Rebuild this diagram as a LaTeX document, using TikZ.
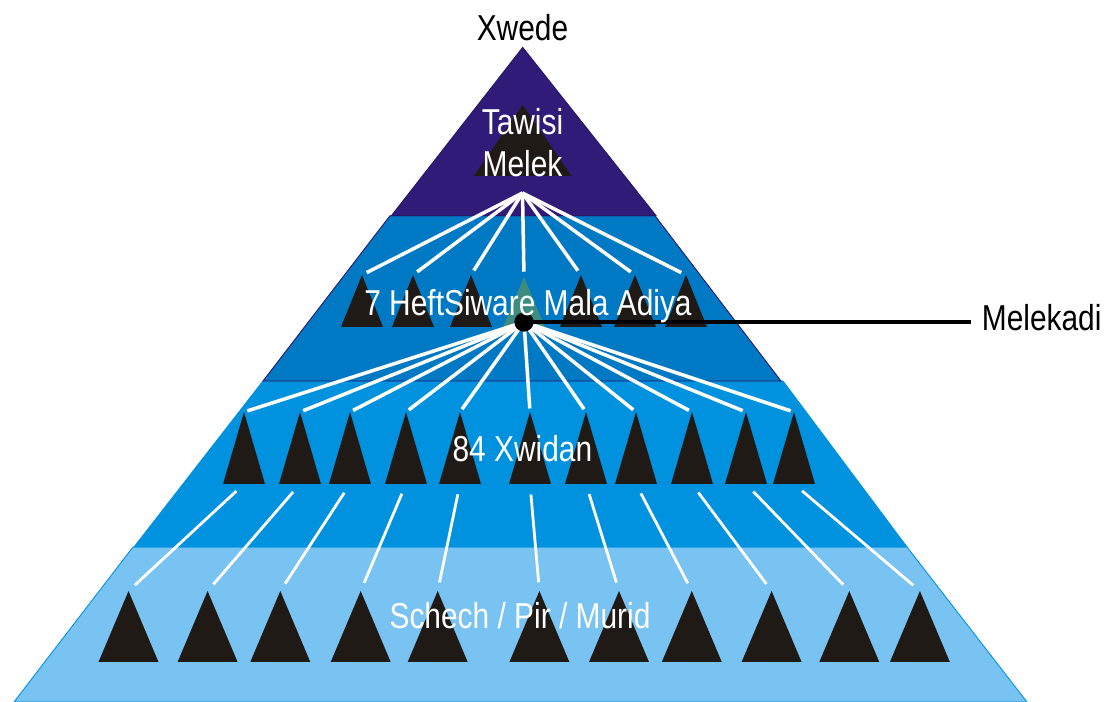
\documentclass[tikz,border=0pt]{standalone}
\usepackage{fontspec}
\newfontfamily\nar[FakeStretch=0.83]{Liberation Sans}
\definecolor{bandA}{RGB}{49,27,120}
\definecolor{bandB}{RGB}{0,121,197}
\definecolor{bandC}{RGB}{0,145,223}
\definecolor{bandD}{RGB}{120,195,242}
\definecolor{edgeA}{RGB}{40,22,105}
\definecolor{triblack}{RGB}{32,26,23}
\definecolor{trigreen}{RGB}{60,140,128}
% name, cx, apex y, base y, half width, colour
\newcommand\tri[6]{%
  \fill[#6] (#2,#3) -- ({#2+#5},#4) -- ({#2-#5},#4) -- cycle;
  \coordinate (#1t) at (#2,#3);
  \coordinate (#1b) at (#2,#4);}
\begin{document}
\begin{tikzpicture}[x=0.02cm,y=-0.02cm,
  lbl/.style={inner sep=0pt,font=\nar\fontsize{20.5}{24}\selectfont},
  wlbl/.style={lbl,text=white},
  upline/.style={draw=white,line width=2pt},
  lowline/.style={draw=white,line width=1.6pt},
  blackline/.style={draw=black,line width=2.1pt},
  dotstyle/.style={circle,fill=black,inner sep=0pt,minimum size=11}]
\useasboundingbox (0,0) rectangle (1107,702);
% bands
\filldraw[fill=bandD,draw=bandC,line width=0.5pt] (133,547) -- (907,547) -- (1027,702) -- (14,702) -- cycle;
\filldraw[fill=bandC,draw=bandC,line width=0.5pt] (263,381) -- (783,381) -- (907,547) -- (134,547) -- cycle;
\filldraw[fill=bandB,draw=edgeA,line width=0.5pt] (390,215.7) -- (655,215.7) -- (781,381) -- (263,381) -- cycle;
\filldraw[fill=bandA,draw=edgeA,line width=0.6pt] (522.7,47.5) -- (656,215.7) -- (391.5,215.7) -- cycle;
% top triangle
\tri{tm}{522.7}{105}{176}{49}{triblack}
% row 2
\tri{r2-1}{362}{275}{327}{21}{triblack}
\tri{r2-2}{413}{275}{327}{21}{triblack}
\tri{r2-3}{471}{275}{327}{21}{triblack}
\tri{r2-4}{524}{277}{327}{21}{trigreen}
\tri{r2-5}{581}{275}{327}{21}{triblack}
\tri{r2-6}{635}{275}{327}{21}{triblack}
\tri{r2-7}{686}{275}{327}{21}{triblack}
% row 3
\foreach \cx [count=\i] in {244,300,350,406,460,530,586,636,692,746,794}
  {\tri{r3-\i}{\cx}{412}{484}{21}{triblack}}
% row 4
\foreach \cx [count=\i] in {128.5,207.6,280.3,360.7,437.7,539.4,619,691.8,771.6,849.3,919.9}
  {\tri{r4-\i}{\cx}{591}{662}{30}{triblack}}
% hubs
\coordinate (hub1) at (522.5,193);
\coordinate (hub2) at (524,322);
% lines top -> row 2
\foreach \i in {1,...,7}
  \draw[upline,shorten >=3] (hub1) -- (r2-\i t);
% lines dot -> row 3
\foreach \i in {1,...,11}
  \draw[upline,shorten >=2] (hub2) -- (r3-\i t);
% lines row 3 -> row 4
\foreach \i in {1,...,11}
  \draw[lowline,shorten <=6,shorten >=5] (r3-\i b) -- (r4-\i t);
% dot and Melekadi
\node[dotstyle] (dot) at (hub2) {};
\node[lbl,anchor=base west] (melekadi) at (981.5,330.7) {Melekadi};
\draw[blackline,shorten >=6] (dot.center) -- (dot.center -| melekadi.west);
% labels
\node[lbl,anchor=base] (xwede) at (522.5,41) {Xwede};
\node[wlbl,anchor=base] (tawisi) at (522.5,135) {Tawisi};
\node[wlbl,anchor=base] (melek) at (522.5,176.7) {Melek};
\node[wlbl,anchor=base] (heft) at (528,316) {7 HeftSiware Mala Adiya};
\node[wlbl,anchor=base] (xwidan) at (522.4,461.7) {84 Xwidan};
\node[wlbl,anchor=base] (schech) at (520,629) {Schech / Pir / Murid};
\end{tikzpicture}
\end{document}
